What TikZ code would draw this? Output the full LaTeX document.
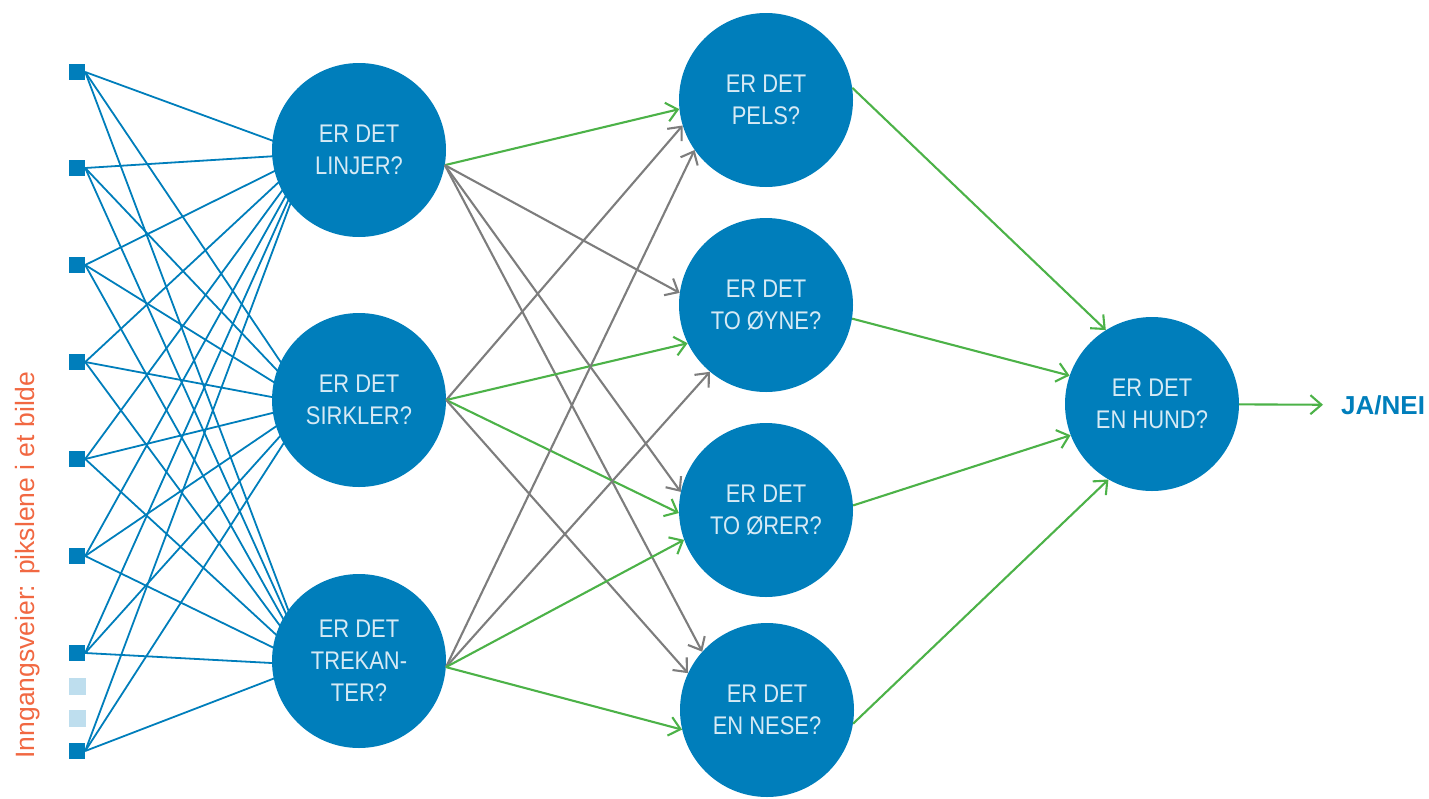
\documentclass[tikz,border=0pt]{standalone}
\usepackage{fontspec}
\setmainfont{Liberation Sans}
\newfontfamily\narrowfont[FakeStretch=0.86]{Liberation Sans}
\usetikzlibrary{arrows.meta}
\pgfdeclarelayer{bg}
\pgfsetlayers{bg,main}
\definecolor{netblue}{RGB}{0,126,187}
\definecolor{paleblue}{RGB}{190,222,238}
\definecolor{textblue}{RGB}{214,234,245}
\definecolor{firegreen}{RGB}{76,178,72}
\definecolor{idlegray}{RGB}{125,125,125}
\definecolor{labelred}{RGB}{241,104,66}
\tikzset{
	neuron/.style={circle,fill=netblue,minimum size=174pt,inner sep=0pt,align=center,text=textblue,font=\narrowfont\fontsize{25.5}{32}\selectfont},
	pixel/.style={rectangle,fill=netblue,minimum size=16pt,inner sep=0pt},
	pixelgap/.style={rectangle,fill=paleblue,minimum size=17pt,inner sep=0pt},
	wire/.style={draw=netblue,line width=1.8pt},
	greenarrow/.style={draw=firegreen,line width=2.1pt,-{Straight Barb[length=11pt,width=19pt]}},
	grayarrow/.style={draw=idlegray,line width=2.1pt,-{Straight Barb[length=11pt,width=19pt]}},
}
\begin{document}
\begin{tikzpicture}[x=1pt,y=-1pt]
		\useasboundingbox (0,0) rectangle (1429,798);
		% input pixels
		\foreach \i/\y in {1/72,2/168,3/265,4/362,5/459,6/556,7/653,8/751}
			\node[pixel] (in\i) at (77,\y) {};
		\node[pixelgap] (gap1) at (77,686) {};
		\node[pixelgap] (gap2) at (77,718) {};
		\node[rotate=90,anchor=base,text=labelred,font=\fontsize{26.5}{26.5}\selectfont,inner sep=0pt] (caption) at (34,565) {Inngangsveier: pikslene i et bilde};
		% first layer
		\node[neuron] (linjer) at (359,150) {ER DET\\LINJER?};
		\node[neuron] (sirkler) at (359,400) {ER DET\\SIRKLER?};
		\node[neuron] (trekanter) at (359,661) {ER DET\\TREKAN-\\TER?};
		\foreach \n in {linjer,sirkler,trekanter}
			\coordinate (\n-in) at ([xshift=-50pt,yshift=-4pt]\n.center);
		\begin{pgfonlayer}{bg}
			\foreach \n in {linjer,sirkler,trekanter}
				\foreach \i in {1,...,8}
					\draw[wire] (in\i.east) -- (\n-in);
		\end{pgfonlayer}
		% second layer
		\node[neuron] (pels) at (766,100) {ER DET\\PELS?};
		\node[neuron] (oyne) at (766,305) {ER DET\\TO ØYNE?};
		\node[neuron] (orer) at (766,510) {ER DET\\TO ØRER?};
		\node[neuron] (nese) at (767,710) {ER DET\\EN NESE?};
		\foreach \a/\b/\s in {linjer.-10/pels.186/greenarrow,linjer.-10/oyne.172/grayarrow,linjer.-10/orer.168/grayarrow,linjer.-10/nese.138/grayarrow,
			sirkler.0/pels.197/grayarrow,sirkler.0/oyne.206/greenarrow,sirkler.0/orer.182/greenarrow,sirkler.0/nese.155/grayarrow,
			trekanter.-4/pels.215/grayarrow,trekanter.-4/oyne.230/grayarrow,trekanter.-4/orer.200/greenarrow,trekanter.-4/nese.193/greenarrow}
			\draw[\s] (\a) -- (\b);
		% output
		\node[neuron] (hund) at (1152,404) {ER DET\\EN HUND?};
		\node[font=\bfseries\fontsize{26}{26}\selectfont,text=netblue,inner sep=0pt,anchor=west] (janei) at (1341,405) {JA/NEI};
		\foreach \a/\b in {pels.8/hund.122,oyne.-9/hund.161,orer.3/hund.201,nese.-9/hund.240}
			\draw[greenarrow] (\a) -- (\b);
		\draw[greenarrow,shorten >=18pt] (hund) -- (janei);
\end{tikzpicture}
\end{document}
